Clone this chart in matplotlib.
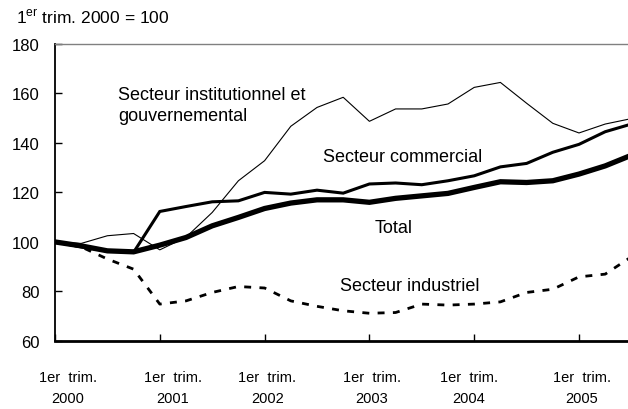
import matplotlib
matplotlib.use("Agg")
import matplotlib.pyplot as plt

plt.rcParams['font.family'] = ['Liberation Sans', 'DejaVu Sans']
plt.rcParams['mathtext.fontset'] = 'custom'
plt.rcParams['mathtext.rm'] = 'Liberation Sans'

quarters = list(range(23))
institutionnel = [100, 99.4, 102.5, 103.4, 96.8, 101.9, 111.9, 124.7, 132.8, 146.7, 154.3, 158.4,
                  148.7, 153.7, 153.7, 155.7, 162.4, 164.4, 156.0, 147.9, 144.0, 147.6, 149.8]
commercial = [100, 98.0, 96.4, 95.8, 112.3, 114.3, 116.2, 116.6, 120.0, 119.3, 120.9, 119.7,
              123.4, 123.8, 123.1, 124.7, 126.7, 130.3, 131.7, 136.2, 139.4, 144.5, 147.6]
total = [100, 98.4, 96.4, 96.0, 98.7, 101.8, 106.5, 109.9, 113.5, 115.7, 117.0, 117.0,
         116.0, 117.6, 118.6, 119.6, 122.0, 124.3, 124.0, 124.7, 127.4, 130.7, 135.0]
industriel = [100, 98.0, 93.1, 89.0, 74.9, 76.2, 79.6, 82.0, 81.4, 76.2, 74.0, 72.2,
              71.2, 71.5, 74.9, 74.5, 74.9, 75.8, 79.6, 80.9, 85.9, 87.0, 94.0]
tick_labels = ["1er  trim.\n2000", "1er  trim.\n2001", "1er  trim.\n2002",
               "1er  trim.\n2003", "1er  trim.\n2004", "1er  trim.\n2005"]
label_pos = [0.5, 4.5, 8.1, 12.1, 15.8, 20.1]

fig = plt.figure(figsize=(6.28, 4.10), dpi=100)
ax = fig.add_axes([55/628, 1-342/410, 1-55/628, (342-44.8)/410])

ax.plot(quarters, institutionnel, color='black', lw=0.8, solid_joinstyle='miter')
ax.plot(quarters, commercial, color='black', lw=2.2, solid_joinstyle='miter')
ax.plot(quarters, total, color='black', lw=3.8, solid_joinstyle='miter')
ax.plot(quarters, industriel, color='black', lw=2.0, linestyle=(0, (2.5, 3.0)))

ax.set_xlim(0, (628-55)/26.2)
ax.set_ylim(60, 180)
ax.set_yticks([60, 80, 100, 120, 140, 160, 180])
ax.tick_params(axis='y', direction='in', length=5, width=1, pad=11, labelsize=12)
ax.set_xticks([0, 4, 8, 12, 16, 20])
ax.set_xticklabels([])
ax.set_xticks(label_pos, minor=True)
ax.set_xticklabels(tick_labels, minor=True)
ax.tick_params(axis='x', which='major', direction='in', length=5, width=1)
ax.tick_params(axis='x', which='minor', length=0, pad=21, labelsize=10.5)
for t in ax.get_xticklabels(minor=True):
    t.set_linespacing(1.65)

ax.spines['right'].set_visible(False)
ax.spines['top'].set_color('#808080')
ax.spines['top'].set_linewidth(1.0)
ax.spines['left'].set_linewidth(1.3)
ax.spines['bottom'].set_linewidth(2.0)

ax.text(2.4, 155.3, "Secteur institutionnel et\ngouvernemental", fontsize=13,
        ha='left', va='center', linespacing=1.25)
ax.text(10.23, 134.3, "Secteur commercial", fontsize=13, ha='left', va='center')
ax.text(12.2, 106.0, "Total", fontsize=13, ha='left', va='center')
ax.text(10.88, 82.5, "Secteur industriel", fontsize=13, ha='left', va='center')

fig.text(16/628, 1-18/410, r"1$^{\mathrm{er}}$ trim. 2000 = 100", fontsize=12.5,
         ha='left', va='center')

fig.savefig("out.png", dpi=100)
